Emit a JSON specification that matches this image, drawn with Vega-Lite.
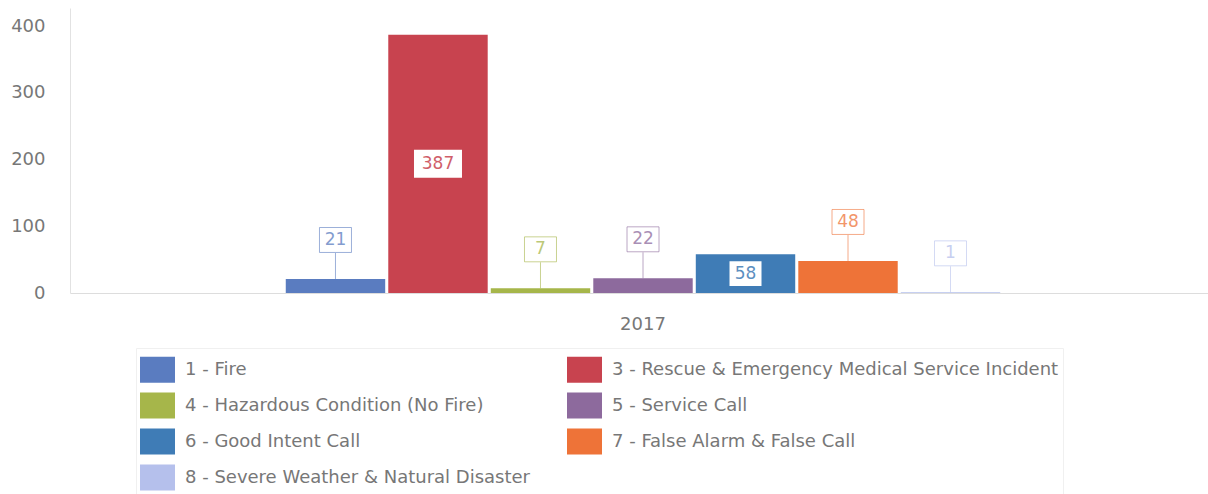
{
  "$schema": "https://vega.github.io/schema/vega-lite/v6.json",
  "width": 1146,
  "height": 285,
  "autosize": {"type": "none"},
  "padding": {"left": 70, "top": 8, "right": 0, "bottom": 201},
  "background": "white",
  "config": {
    "font": "DejaVu Sans",
    "view": {"stroke": null}
  },
  "data": {
    "values": [
      {"year": "2017", "category": "1 - Fire", "value": 21},
      {"year": "2017", "category": "3 - Rescue & Emergency Medical Service Incident", "value": 387},
      {"year": "2017", "category": "4 - Hazardous Condition (No Fire)", "value": 7},
      {"year": "2017", "category": "5 - Service Call", "value": 22},
      {"year": "2017", "category": "6 - Good Intent Call", "value": 58},
      {"year": "2017", "category": "7 - False Alarm & False Call", "value": 48},
      {"year": "2017", "category": "8 - Severe Weather & Natural Disaster", "value": 1}
    ]
  },
  "encoding": {
    "x": {
      "field": "year", "type": "nominal",
      "scale": {"paddingOuter": 0.302, "paddingInner": 0},
      "axis": {"title": null, "labelAngle": 0, "ticks": false, "domainColor": "#dddddd", "labelPadding": 22, "labelFontSize": 18, "labelColor": "#777777"}
    },
    "xOffset": {
      "field": "category", "type": "nominal",
      "scale": {"paddingInner": 0.03, "paddingOuter": 0}
    },
    "y": {
      "field": "value", "type": "quantitative",
      "scale": {"domain": [0, 427], "nice": false},
      "axis": {"title": null, "values": [0, 100, 200, 300, 400], "ticks": false, "grid": false, "domainColor": "#e2e2e2", "labelColor": "#777777", "labelFontSize": 18, "labelPadding": 25}
    }
  },
  "layer": [
    {
      "mark": {"type": "bar"},
      "encoding": {
        "color": {
          "field": "category", "type": "nominal",
          "scale": {
            "domain": ["1 - Fire", "3 - Rescue & Emergency Medical Service Incident", "4 - Hazardous Condition (No Fire)", "5 - Service Call", "6 - Good Intent Call", "7 - False Alarm & False Call", "8 - Severe Weather & Natural Disaster"],
            "range": ["#5a7cc0", "#c8434f", "#a6b64a", "#8d6a9d", "#3f7cb6", "#ee7338", "#b5c0ec"]
          },
          "legend": {
            "title": null,
            "orient": "none",
            "legendX": 66,
            "legendY": 340,
            "direction": "horizontal",
            "columns": 2,
            "columnPadding": 37,
            "rowPadding": 5,
            "padding": 4,
            "strokeColor": "#f0f0f0",
            "symbolType": "M-1,-0.743H1V0.743H-1Z",
            "symbolSize": 1225,
            "symbolStrokeWidth": 0,
            "symbolOpacity": 1,
            "labelFontSize": 18,
            "labelColor": "#777777",
            "labelOffset": 10,
            "labelLimit": 600,
            "encode": {"symbols": {"update": {"opacity": {"value": 1}, "fillOpacity": {"value": 1}}}}
          }
        }
      }
    },
    {
      "transform": [{"filter": "datum.value != 387 && datum.value != 58"}],
      "mark": {"type": "rule", "y2Offset": -26, "strokeWidth": 1, "opacity": 0.6},
      "encoding": {
        "y2": {"field": "value"},
        "color": {"field": "category", "type": "nominal"}
      }
    },
    {
      "transform": [{"filter": "datum.value != 387 && datum.value != 58"}],
      "mark": {"type": "point", "shape": "M-1,-0.78H1V0.78H-1Z", "size": 1024, "yOffset": -39, "strokeWidth": 1, "fill": "white", "fillOpacity": 1, "strokeOpacity": 0.6, "filled": false},
      "encoding": {
        "color": {"field": "category", "type": "nominal"}
      }
    },
    {
      "transform": [{"filter": "datum.value != 387 && datum.value != 58"}],
      "mark": {"type": "text", "yOffset": -39, "fontSize": 17, "opacity": 0.75},
      "encoding": {
        "text": {"field": "value", "type": "quantitative"},
        "color": {"field": "category", "type": "nominal"}
      }
    },
    {
      "transform": [{"filter": "datum.value == 387 || datum.value == 58"}, {"calculate": "datum.value / 2", "as": "mid"}],
      "mark": {"type": "point", "strokeWidth": 0, "fill": "white", "fillOpacity": 1, "filled": false},
      "encoding": {
        "y": {"field": "mid", "type": "quantitative"},
        "shape": {"condition": {"test": "datum.value > 100", "value": "M-1,-0.583H1V0.583H-1Z"}, "value": "M-1,-0.78H1V0.78H-1Z"},
        "size": {"condition": {"test": "datum.value > 100", "value": 2304}, "value": 1024}
      }
    },
    {
      "transform": [{"filter": "datum.value == 387 || datum.value == 58"}, {"calculate": "datum.value / 2", "as": "mid"}],
      "mark": {"type": "text", "fontSize": 17, "opacity": 0.85},
      "encoding": {
        "y": {"field": "mid", "type": "quantitative"},
        "text": {"field": "value", "type": "quantitative"},
        "color": {"field": "category", "type": "nominal"}
      }
    }
  ]
}
